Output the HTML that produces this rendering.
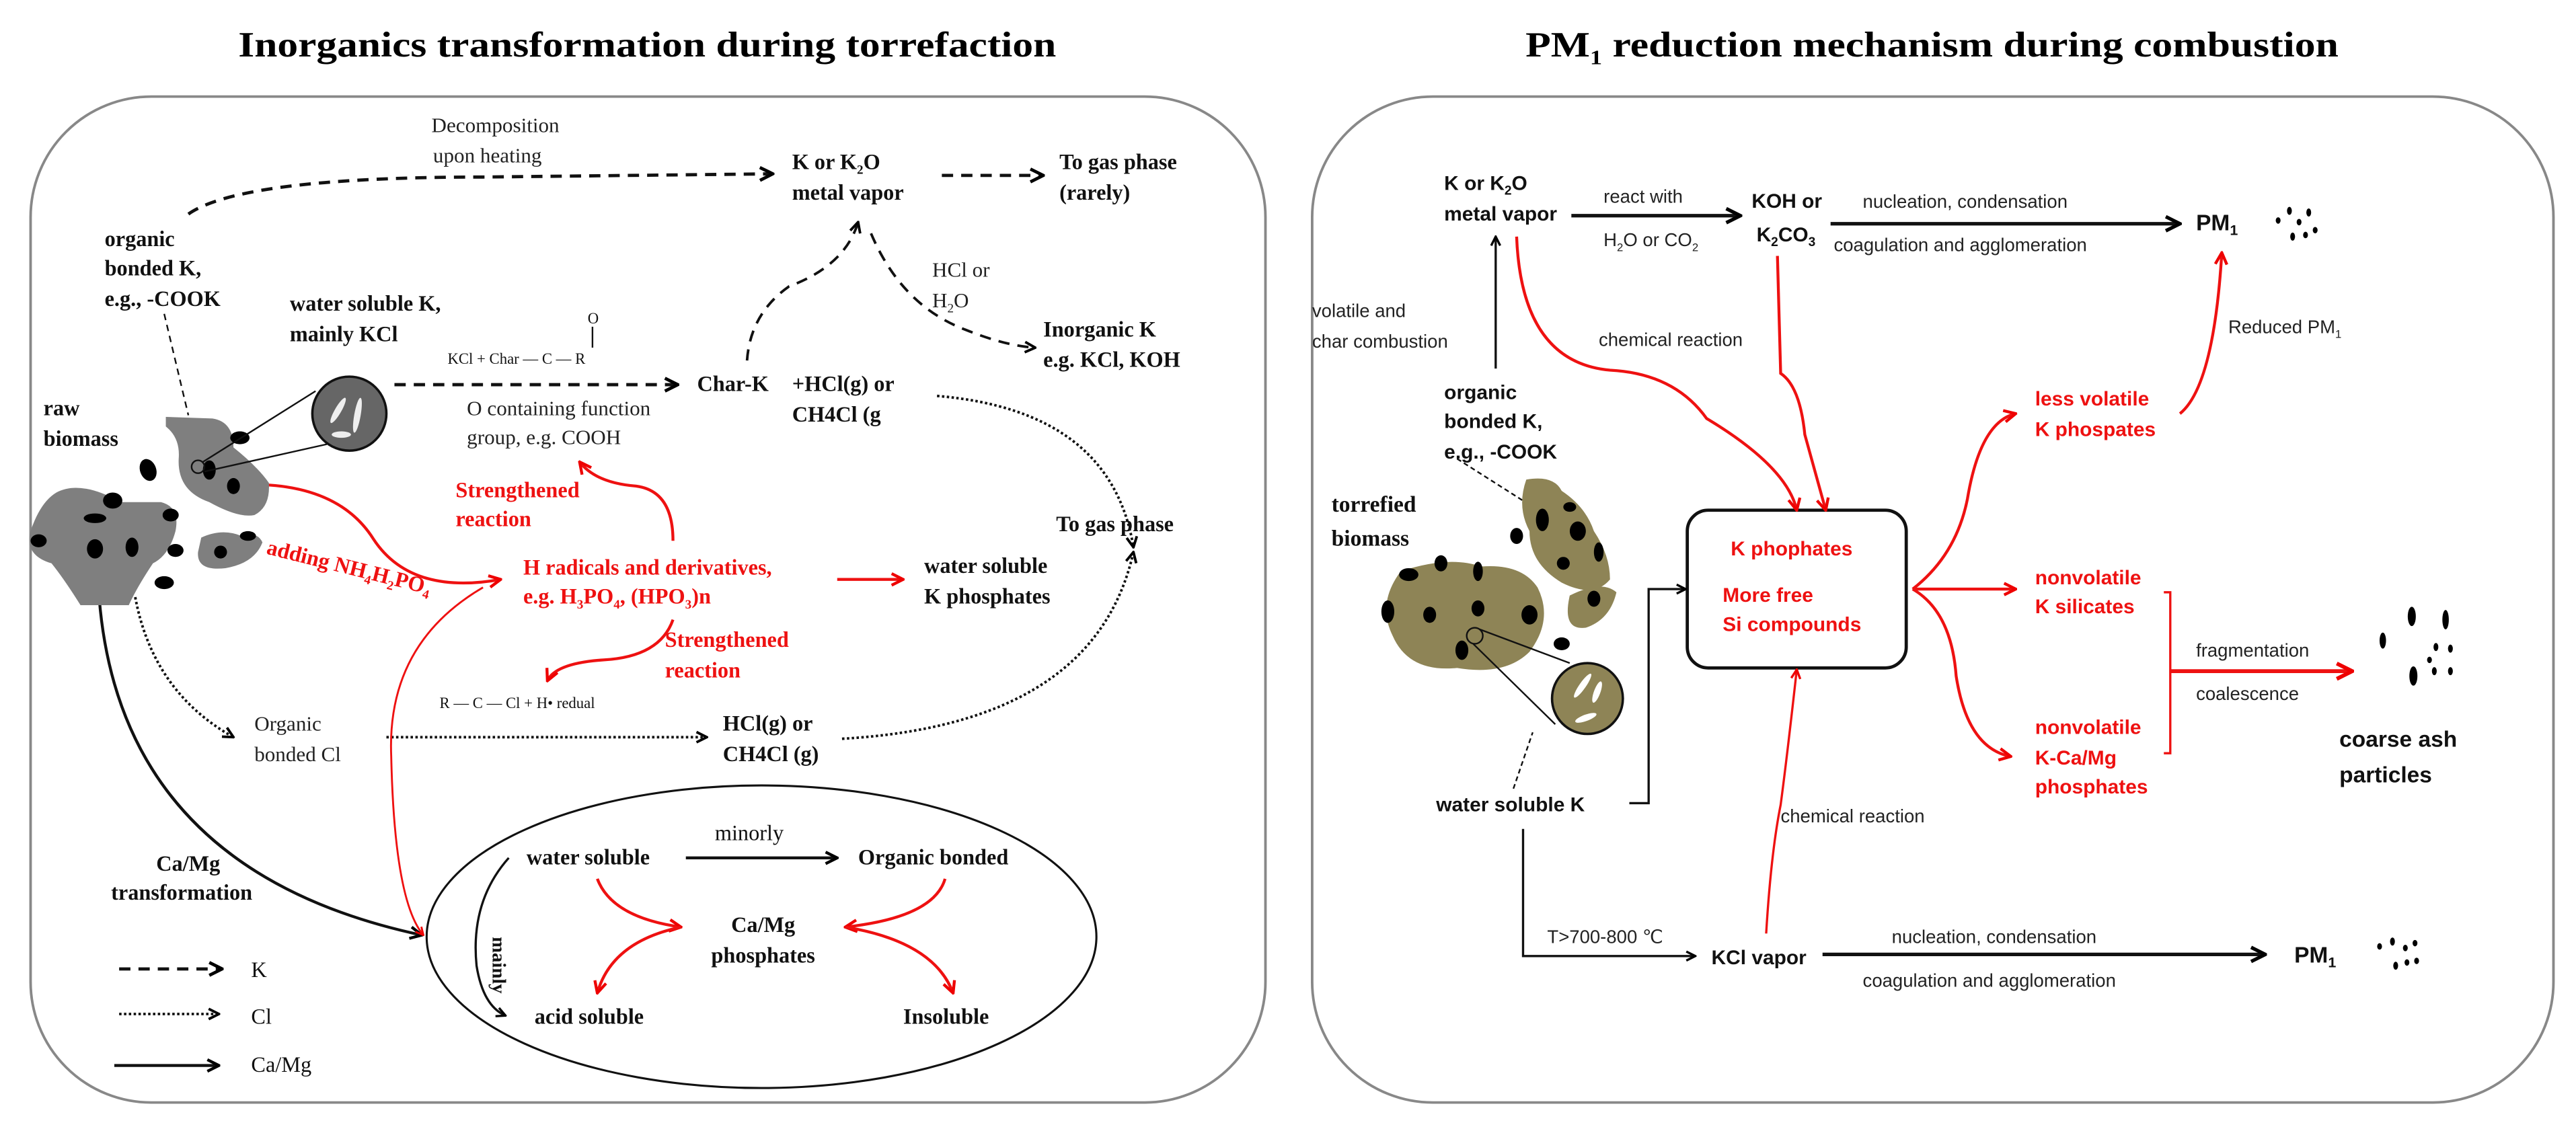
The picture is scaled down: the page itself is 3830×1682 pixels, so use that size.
<!DOCTYPE html>
<html><head><meta charset="utf-8"><style>
html,body{margin:0;padding:0;background:#fff}
svg{display:block}
.s{font-family:"Liberation Serif",serif}
.a{font-family:"Liberation Sans",sans-serif}
</style></head><body>
<svg width="3830" height="1682" viewBox="0 0 1600 702.7" preserveAspectRatio="none" xmlns="http://www.w3.org/2000/svg">
<defs>
<marker id="ak" viewBox="0 0 10 10" refX="9" refY="5" markerWidth="5" markerHeight="5" orient="auto"><path d="M1,1 L9,5 L1,9" fill="none" stroke="#000" stroke-width="2"/></marker>
<marker id="ar" viewBox="0 0 10 10" refX="9" refY="5" markerWidth="5" markerHeight="5" orient="auto"><path d="M1,1 L9,5 L1,9" fill="none" stroke="#e00" stroke-width="2"/></marker>
</defs>
<rect width="1600" height="703" fill="#fff"/>

<!-- LEFT PANEL -->
<text class="s" x="402" y="35" font-size="22" font-weight="bold" text-anchor="middle" textLength="508" lengthAdjust="spacingAndGlyphs">Inorganics transformation during torrefaction</text>
<rect x="19" y="60" width="767" height="625" rx="75" ry="75" fill="none" stroke="#888" stroke-width="1.6"/>

<g class="s" font-size="13" fill="#222">
<text x="268" y="82">Decomposition</text>
<text x="269" y="101">upon heating</text>
<text x="290" y="258">O containing function</text>
<text x="290" y="276">group, e.g. COOH</text>
<text x="579" y="172">HCl or</text>
<text x="579" y="191">H<tspan font-size="8" dy="3">2</tspan><tspan dy="-3">O</tspan></text>
<text x="158" y="454">Organic</text>
<text x="158" y="473">bonded Cl</text>
</g>
<g class="s" font-size="13.5" font-weight="bold" fill="#111">
<text x="492" y="105">K or K<tspan font-size="8" dy="3">2</tspan><tspan dy="-3">O</tspan></text>
<text x="492" y="124">metal vapor</text>
<text x="658" y="105">To gas phase</text>
<text x="658" y="124">(rarely)</text>
<text x="65" y="153">organic</text>
<text x="65" y="171">bonded K,</text>
<text x="65" y="190">e.g., -COOK</text>
<text x="180" y="193">water soluble K,</text>
<text x="180" y="212">mainly KCl</text>
<text x="433" y="243">Char-K</text>
<text x="492" y="243">+HCl(g) or</text>
<text x="492" y="262">CH4Cl (g</text>
<text x="648" y="209">Inorganic K</text>
<text x="648" y="228">e.g. KCl, KOH</text>
<text x="656" y="330">To gas phase</text>
<text x="27" y="258">raw</text>
<text x="27" y="277">biomass</text>
<text x="574" y="356">water soluble</text>
<text x="574" y="375">K phosphates</text>
<text x="449" y="454">HCl(g) or</text>
<text x="449" y="473">CH4Cl (g)</text>
<text x="97" y="541">Ca/Mg</text>
<text x="69" y="559">transformation</text>
<text x="327" y="537">water soluble</text>
<text x="533" y="537">Organic bonded</text>
<text x="474" y="579" text-anchor="middle">Ca/Mg</text>
<text x="474" y="598" text-anchor="middle">phosphates</text>
<text x="332" y="636">acid soluble</text>
<text x="561" y="636">Insoluble</text>
<text x="444" y="522" font-weight="normal">minorly</text>
</g>
<g class="s" font-size="9.5" fill="#111">
<text x="278" y="226">KCl  +  Char — C — R</text>
<text x="365" y="201">O</text>
<text x="273" y="440">R — C — Cl  +  H• redual</text>
</g>
<line x1="368" y1="203" x2="368" y2="216" stroke="#111" stroke-width="1"/>
<text class="s" font-size="12" font-weight="bold" fill="#111" transform="translate(306,582) rotate(90)">mainly</text>

<g class="s" font-size="13.5" font-weight="bold" fill="#e11">
<text x="283" y="309">Strengthened</text>
<text x="283" y="327">reaction</text>
<text x="413" y="402">Strengthened</text>
<text x="413" y="421">reaction</text>
<text x="325" y="357">H radicals  and derivatives,</text>
<text x="325" y="375">e.g. H<tspan font-size="8" dy="3">3</tspan><tspan dy="-3">PO</tspan><tspan font-size="8" dy="3">4</tspan><tspan dy="-3">, (HPO</tspan><tspan font-size="8" dy="3">3</tspan><tspan dy="-3">)n</tspan></text>
<text transform="translate(165,344) rotate(14)">adding NH<tspan font-size="8" dy="3">4</tspan><tspan dy="-3">H</tspan><tspan font-size="8" dy="3">2</tspan><tspan dy="-3">PO</tspan><tspan font-size="8" dy="3">4</tspan></text>
</g>

<g fill="none" stroke="#111" stroke-width="2" stroke-dasharray="7,5">
<path d="M117,133 Q150,110 300,110 L480,108" marker-end="url(#ak)"/>
<path d="M585,109 L648,109" marker-end="url(#ak)"/>
<path d="M245,239 L421,239" marker-end="url(#ak)"/>
<path d="M464,224 Q466,195 490,178 Q525,165 533,138" marker-end="url(#ak)" stroke-width="1.6"/>
<path d="M541,145 Q560,190 600,205 Q625,215 643,216" marker-end="url(#ak)" stroke-width="1.6"/>
<path d="M74,602 L138,602" marker-end="url(#ak)"/>
</g>
<line x1="102" y1="195" x2="117" y2="258" stroke="#111" stroke-width="1" stroke-dasharray="4,3"/>
<g fill="none" stroke="#111" stroke-width="1.6" stroke-dasharray="1.5,1.5">
<path d="M582,246 Q690,255 704,340" marker-end="url(#ak)"/>
<path d="M84,371 Q95,430 145,458" marker-end="url(#ak)"/>
<path d="M240,458 L439,458" marker-end="url(#ak)"/>
<path d="M523,459 Q680,450 704,343" marker-end="url(#ak)"/>
<path d="M74,630 L136,630" marker-end="url(#ak)"/>
</g>
<g fill="none" stroke="#111" stroke-width="1.8">
<path d="M61,362 Q70,540 262,581" marker-end="url(#ak)"/>
<path d="M426,533 L520,533" marker-end="url(#ak)"/>
<path d="M316,533 Q292,560 296,600 Q300,625 314,631" marker-end="url(#ak)" stroke-width="1.4"/>
<path d="M71,662 L136,662" marker-end="url(#ak)"/>
</g>
<ellipse cx="473" cy="582" rx="208" ry="94" fill="none" stroke="#111" stroke-width="1.3"/>
<g fill="none" stroke="#e11" stroke-width="1.8">
<path d="M153,301 Q210,300 232,335 Q255,370 311,360" marker-end="url(#ar)"/>
<path d="M418,336 Q418,305 395,302 Q370,300 360,287" marker-end="url(#ar)"/>
<path d="M520,360 L561,360" marker-end="url(#ar)"/>
<path d="M418,385 Q410,408 375,410 Q345,412 340,423" marker-end="url(#ar)"/>
<path d="M300,365 Q240,400 243,470 Q245,560 263,581" marker-end="url(#ar)" stroke-width="1.2"/>
<path d="M371,546 Q380,570 423,576" marker-end="url(#ar)"/>
<path d="M587,546 Q580,570 525,576" marker-end="url(#ar)"/>
<path d="M423,576 Q380,585 371,617" marker-end="url(#ar)"/>
<path d="M525,576 Q580,585 592,617" marker-end="url(#ar)"/>
</g>
<g class="s" font-size="13.5" fill="#111"><text x="156" y="607">K</text><text x="156" y="636">Cl</text><text x="156" y="666">Ca/Mg</text></g>

<g fill="#7f7f7f">
<path d="M103,259 L132,260 Q145,262 145,278 Q160,290 167,300 Q168,315 158,320 Q148,322 130,312 Q110,305 111,285 Q112,272 103,265 z"/>
<path d="M35,306 Q50,298 75,312 L100,312 Q112,315 109,330 Q105,345 95,350 Q85,365 80,376 L50,376 Q40,360 32,350 Q15,345 19,330 Q25,312 35,306 z"/>
<path d="M125,334 Q138,328 150,333 Q160,330 163,337 Q158,350 140,353 Q122,355 123,343 z"/>
</g>
<g fill="#000">
<ellipse cx="92" cy="292" rx="5" ry="7" transform="rotate(-20 92 292)"/><ellipse cx="130" cy="292" rx="4" ry="6"/><ellipse cx="149" cy="272" rx="6" ry="4"/><ellipse cx="145" cy="302" rx="4" ry="5"/>
<ellipse cx="70" cy="311" rx="6" ry="5"/><ellipse cx="59" cy="322" rx="7" ry="3"/><ellipse cx="106" cy="320" rx="5" ry="4"/><ellipse cx="24" cy="336" rx="5" ry="4"/><ellipse cx="59" cy="341" rx="5" ry="6"/><ellipse cx="82" cy="340" rx="4" ry="6"/><ellipse cx="109" cy="342" rx="5" ry="4"/><ellipse cx="102" cy="362" rx="6" ry="4"/><ellipse cx="137" cy="343" rx="4" ry="4"/><ellipse cx="154" cy="333" rx="5" ry="3"/>
</g>
<circle cx="123" cy="290" r="4" fill="none" stroke="#111" stroke-width="1"/>
<line x1="126" y1="287" x2="196" y2="243" stroke="#111" stroke-width="1"/><line x1="127" y1="293" x2="203" y2="276" stroke="#111" stroke-width="1"/>
<circle cx="217" cy="257" r="23" fill="#666" stroke="#111" stroke-width="1.5"/>
<g fill="#eee"><ellipse cx="210" cy="255" rx="2" ry="9" transform="rotate(30 210 255)"/><ellipse cx="222" cy="258" rx="2" ry="11" transform="rotate(10 222 258)"/><ellipse cx="212" cy="270" rx="6" ry="2"/></g>

<!-- RIGHT PANEL -->
<text class="s" x="1200" y="35" font-size="22" font-weight="bold" text-anchor="middle" textLength="505" lengthAdjust="spacingAndGlyphs">PM<tspan font-size="13" dy="5">1</tspan><tspan dy="-5"> reduction mechanism during combustion</tspan></text>
<rect x="815" y="60" width="771" height="625" rx="75" ry="75" fill="none" stroke="#888" stroke-width="1.6"/>

<g class="a" font-size="12.5" font-weight="bold" fill="#111">
<text x="897" y="118">K or K<tspan font-size="8" dy="3">2</tspan><tspan dy="-3">O</tspan></text>
<text x="897" y="137">metal vapor</text>
<text x="1088" y="129">KOH or</text>
<text x="1091" y="150">K<tspan font-size="8" dy="3">2</tspan><tspan dy="-3">CO</tspan><tspan font-size="8" dy="3">3</tspan></text>
<text x="1364" y="143" font-size="14">PM<tspan font-size="9" dy="3">1</tspan></text>
<text x="1425" y="598" font-size="14">PM<tspan font-size="9" dy="3">1</tspan></text>
<text x="897" y="248">organic</text>
<text x="897" y="266">bonded K,</text>
<text x="897" y="285">e.g., -COOK</text>
<text x="892" y="504">water soluble K</text>
<text x="1063" y="599">KCl vapor</text>
<text x="1453" y="464" font-size="14">coarse ash</text>
<text x="1453" y="486" font-size="14">particles</text>
</g>
<g class="s" font-size="14" font-weight="bold" fill="#111"><text x="827" y="318">torrefied</text><text x="827" y="339">biomass</text></g>
<g class="a" font-size="11.5" fill="#222">
<text x="996" y="126">react with</text>
<text x="996" y="153">H<tspan font-size="7" dy="3">2</tspan><tspan dy="-3">O or CO</tspan><tspan font-size="7" dy="3">2</tspan></text>
<text x="1157" y="129">nucleation, condensation</text>
<text x="1139" y="156">coagulation and agglomeration</text>
<text x="815" y="197">volatile and</text>
<text x="815" y="216">char combustion</text>
<text x="993" y="215">chemical reaction</text>
<text x="1384" y="207">Reduced PM<tspan font-size="7" dy="3">1</tspan></text>
<text x="1364" y="408">fragmentation</text>
<text x="1364" y="435">coalescence</text>
<text x="1106" y="511">chemical reaction</text>
<text x="961" y="586">T&gt;700-800 ℃</text>
<text x="1175" y="586">nucleation, condensation</text>
<text x="1157" y="613">coagulation and agglomeration</text>
</g>
<g class="a" font-size="12.5" font-weight="bold" fill="#e11">
<text x="1264" y="252">less volatile</text>
<text x="1264" y="271">K phospates</text>
<text x="1075" y="345">K phophates</text>
<text x="1070" y="374">More free</text>
<text x="1070" y="392">Si compounds</text>
<text x="1264" y="363">nonvolatile</text>
<text x="1264" y="381">K silicates</text>
<text x="1264" y="456">nonvolatile</text>
<text x="1264" y="475">K-Ca/Mg</text>
<text x="1264" y="493">phosphates</text>
</g>
<rect x="1048" y="317" width="136" height="98" rx="13" fill="none" stroke="#111" stroke-width="2"/>

<g fill="none" stroke="#111" stroke-width="2.2">
<path d="M976,134 L1081,134" marker-end="url(#ak)"/>
<path d="M1137,139 L1354,139" marker-end="url(#ak)"/>
<path d="M1132,593 L1407,593" marker-end="url(#ak)"/>
</g>
<g fill="none" stroke="#111" stroke-width="1.4">
<path d="M929,229 L929,147" marker-end="url(#ak)"/>
<path d="M1012,499 L1024,499 L1024,366 L1047,366" marker-end="url(#ak)"/>
<path d="M946,515 L946,594 L1053,594" marker-end="url(#ak)"/>
<line x1="905" y1="285" x2="960" y2="320" stroke-dasharray="3,2" stroke-width="1"/>
<line x1="940" y1="490" x2="952" y2="455" stroke-dasharray="3,2" stroke-width="1"/>
</g>
<g fill="none" stroke="#e11" stroke-width="1.8">
<path d="M942,147 Q945,225 1000,230 Q1040,232 1060,260 Q1110,290 1116,317" marker-end="url(#ar)"/>
<path d="M1104,159 L1106,232 Q1118,240 1121,270 L1134,317" marker-end="url(#ar)"/>
<path d="M1354,257 Q1375,240 1380,157" marker-end="url(#ar)"/>
<path d="M1188,366 Q1215,345 1222,310 Q1230,262 1252,257" marker-end="url(#ar)"/>
<path d="M1188,366 L1252,366" marker-end="url(#ar)"/>
<path d="M1188,366 Q1212,380 1215,420 Q1222,465 1249,470" marker-end="url(#ar)"/>
<path d="M1097,580 Q1100,530 1106,500 Q1110,470 1116,416" marker-end="url(#ar)" stroke-width="1.4"/>
<path d="M1344,368 L1348,368 L1348,468 L1344,468" stroke-width="1.4"/>
<path d="M1348,417 L1461,417" marker-end="url(#ar)" stroke-width="2.4"/>
</g>

<g fill="#8e8456">
<path d="M948,298 Q965,295 970,305 Q985,315 990,330 Q1000,345 1000,360 Q990,372 970,362 Q950,350 950,330 Q942,315 948,298 z"/>
<path d="M870,355 Q900,345 920,352 Q945,350 955,365 Q965,385 950,405 Q935,420 905,415 Q875,418 865,395 Q855,375 870,355 z"/>
<path d="M975,370 Q995,360 1004,368 Q1000,385 985,390 Q970,392 975,370 z"/>
</g>
<g fill="#000">
<ellipse cx="958" cy="323" rx="4" ry="7"/><ellipse cx="980" cy="330" rx="5" ry="6"/><ellipse cx="993" cy="343" rx="3" ry="6"/><ellipse cx="971" cy="350" rx="4" ry="4"/><ellipse cx="942" cy="333" rx="4" ry="5"/><ellipse cx="975" cy="315" rx="4" ry="3"/>
<ellipse cx="875" cy="357" rx="6" ry="4"/><ellipse cx="895" cy="350" rx="4" ry="5"/><ellipse cx="918" cy="355" rx="3" ry="6"/><ellipse cx="862" cy="380" rx="4" ry="7"/><ellipse cx="888" cy="382" rx="4" ry="5"/><ellipse cx="918" cy="378" rx="4" ry="5"/><ellipse cx="950" cy="382" rx="5" ry="6"/><ellipse cx="990" cy="372" rx="4" ry="5"/><ellipse cx="970" cy="400" rx="5" ry="4"/><ellipse cx="908" cy="404" rx="4" ry="6"/>
</g>
<circle cx="916" cy="395" r="5" fill="none" stroke="#111" stroke-width="1"/>
<line x1="919" y1="391" x2="975" y2="412" stroke="#111" stroke-width="1"/><line x1="915" y1="400" x2="966" y2="450" stroke="#111" stroke-width="1"/>
<circle cx="986" cy="434" r="22" fill="#8e8456" stroke="#111" stroke-width="1.5"/>
<g fill="#fff"><ellipse cx="983" cy="426" rx="2" ry="9" transform="rotate(35 983 426)"/><ellipse cx="992" cy="430" rx="2" ry="7" transform="rotate(20 992 430)"/><ellipse cx="985" cy="446" rx="7" ry="2" transform="rotate(-20 985 446)"/></g>

<g fill="#000">
<ellipse cx="1415" cy="137" rx="1.5" ry="2"/><ellipse cx="1422" cy="131" rx="1.5" ry="2.5"/><ellipse cx="1428" cy="138" rx="1.5" ry="2"/><ellipse cx="1434" cy="132" rx="1.5" ry="2.5"/><ellipse cx="1424" cy="147" rx="1.5" ry="2.5"/><ellipse cx="1432" cy="146" rx="1.5" ry="2"/><ellipse cx="1438" cy="143" rx="1.5" ry="2"/>
<ellipse cx="1478" cy="588" rx="1.5" ry="2"/><ellipse cx="1486" cy="585" rx="1.5" ry="2.5"/><ellipse cx="1494" cy="589" rx="1.5" ry="2"/><ellipse cx="1500" cy="586" rx="1.5" ry="2"/><ellipse cx="1488" cy="600" rx="1.5" ry="2.5"/><ellipse cx="1495" cy="598" rx="1.5" ry="2"/><ellipse cx="1501" cy="597" rx="1.5" ry="2"/>
<ellipse cx="1498" cy="383" rx="2.5" ry="6"/><ellipse cx="1519" cy="385" rx="2" ry="6"/><ellipse cx="1480" cy="398" rx="2" ry="5"/><ellipse cx="1513" cy="402" rx="1.5" ry="2.5"/><ellipse cx="1522" cy="403" rx="1.5" ry="2.5"/><ellipse cx="1509" cy="410" rx="1.5" ry="2"/><ellipse cx="1499" cy="420" rx="2.5" ry="6"/><ellipse cx="1512" cy="417" rx="1.5" ry="2.5"/><ellipse cx="1522" cy="417" rx="1.5" ry="2.5"/>
</g>
</svg>
</body></html>
